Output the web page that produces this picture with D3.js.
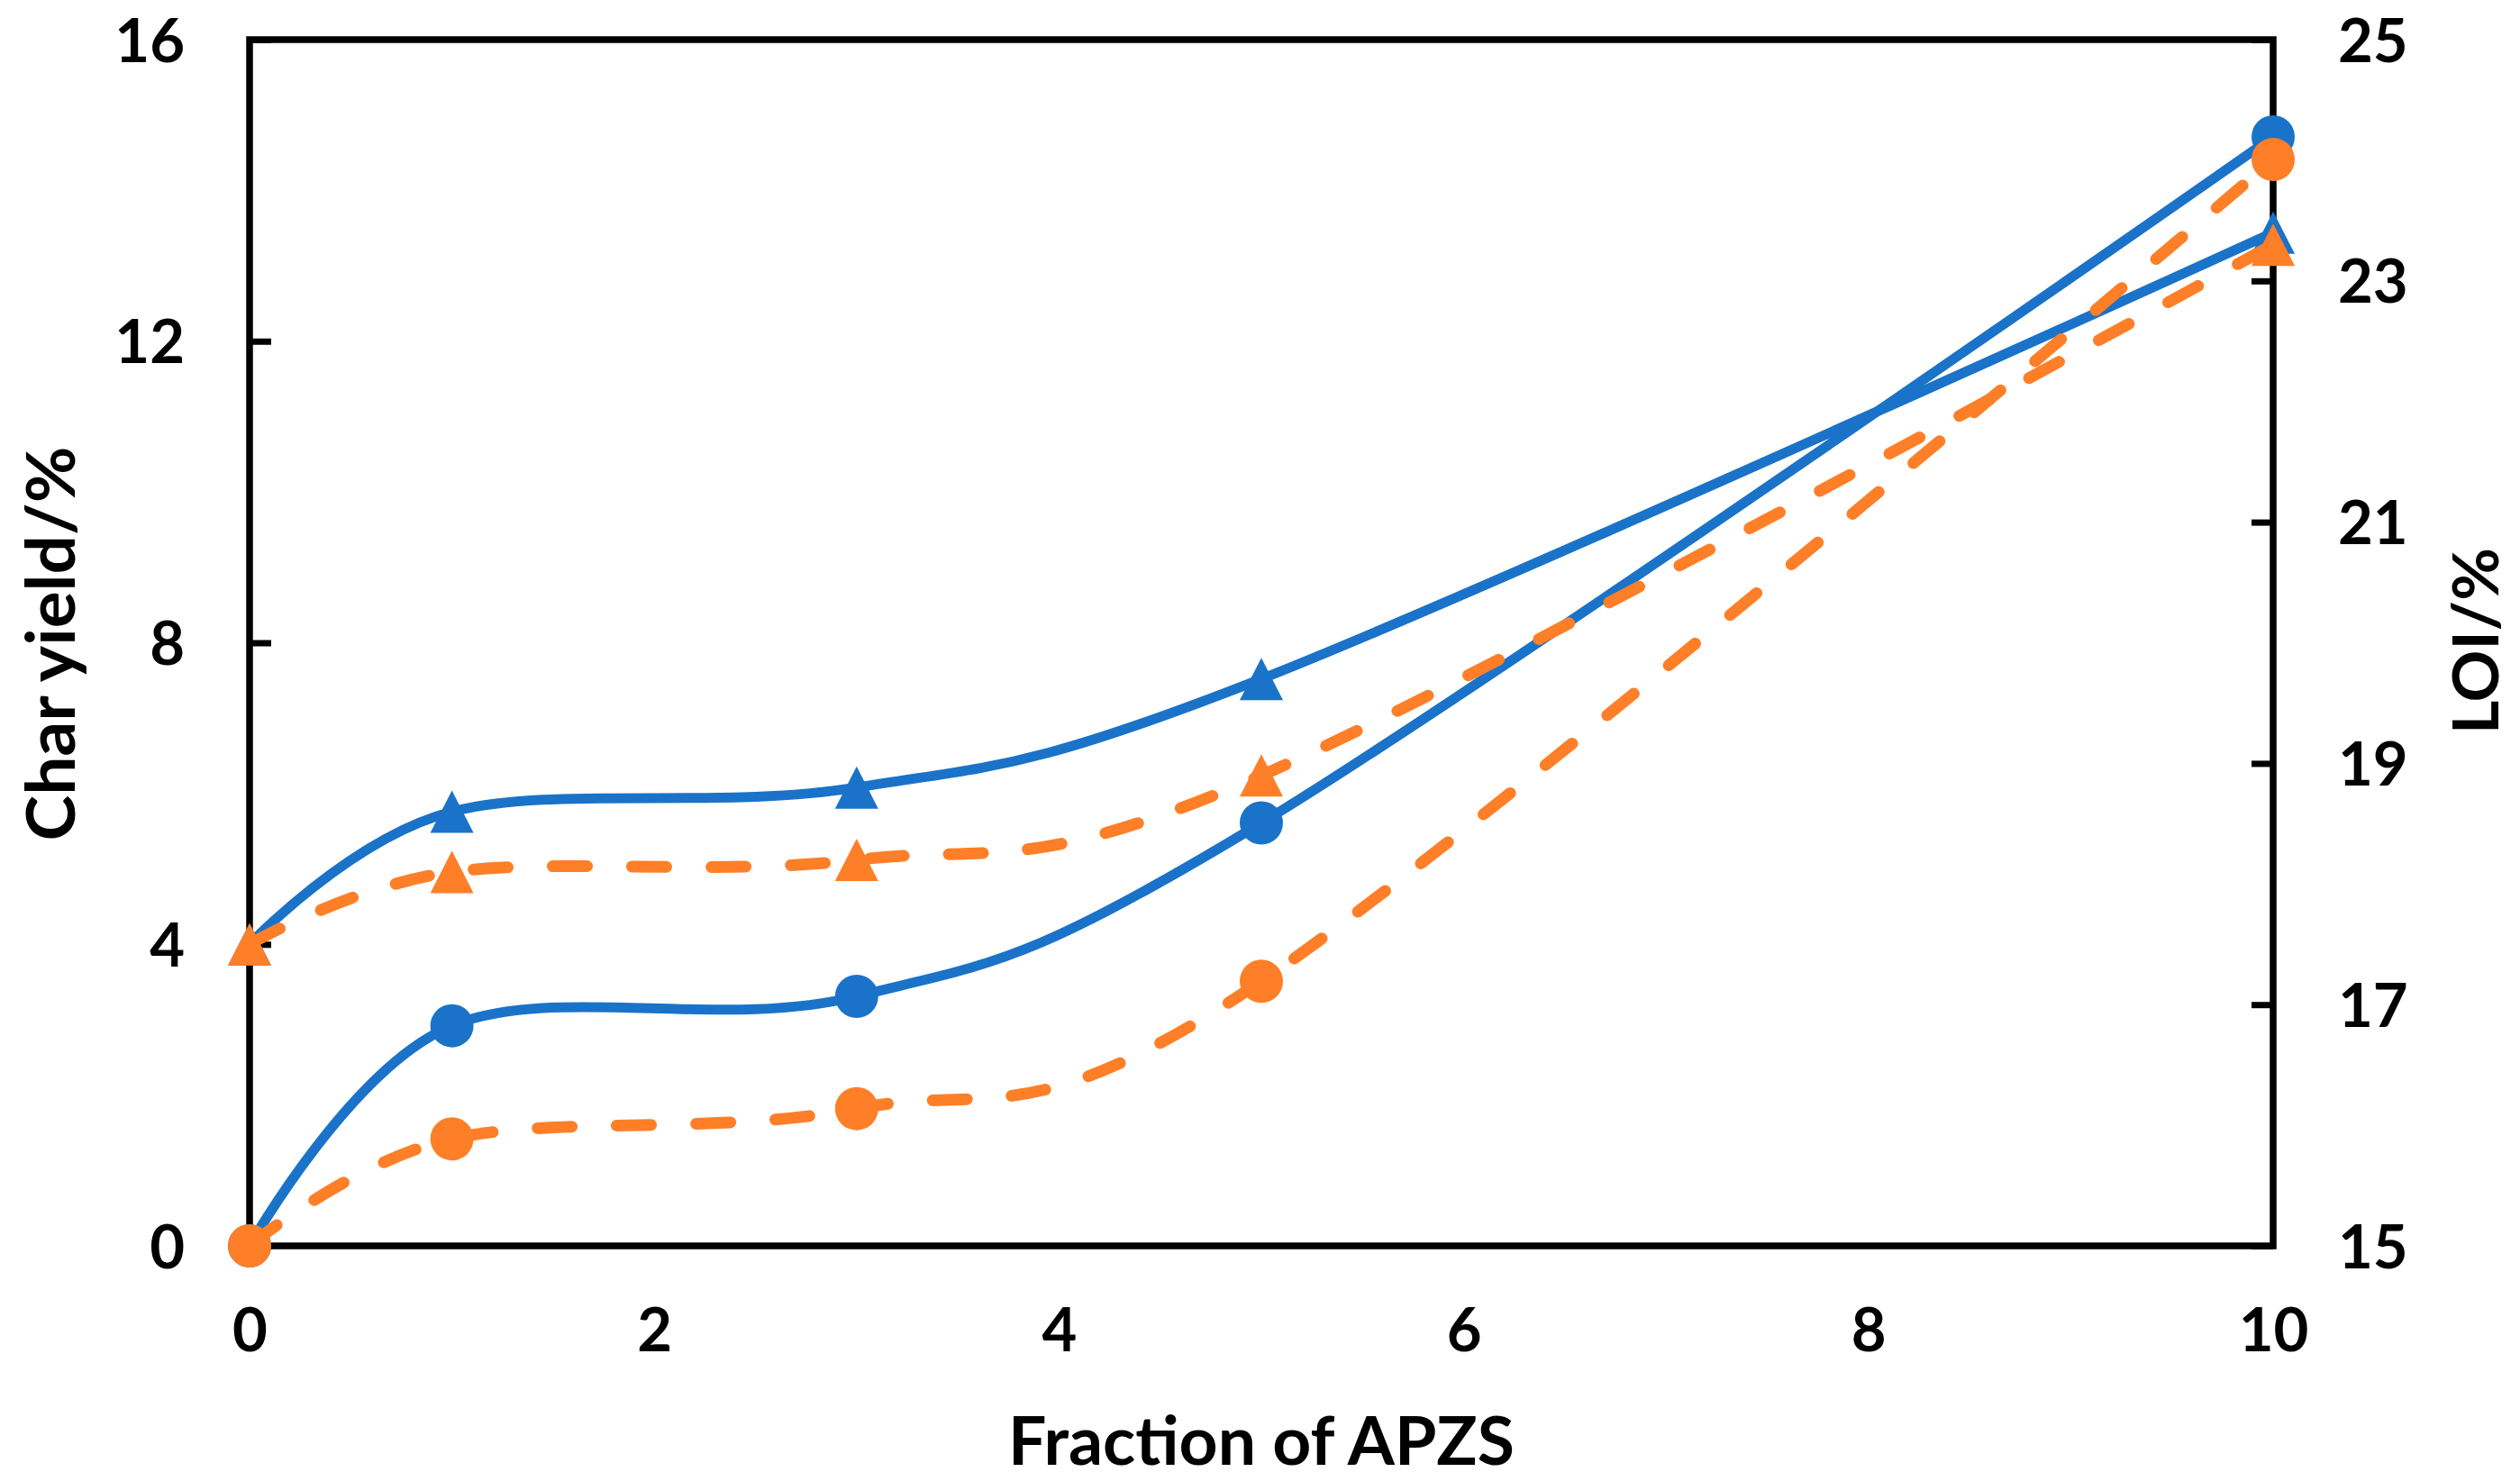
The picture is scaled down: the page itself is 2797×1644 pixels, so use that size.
<!DOCTYPE html>
<html>
<head>
<meta charset="utf-8">
<script src="https://cdn.jsdelivr.net/npm/d3@7"></script>
<style>
  html, body { margin: 0; padding: 0; background: #fff; }
  svg { display: block; }
  text { font-family: Lato, "Open Sans", "Noto Sans", sans-serif; font-weight: 700; fill: #000; }
</style>
</head>
<body>
<script>
// ---- data ----
const xValues = [0, 1, 3, 5, 10];
const charYieldBlue = [0, 2.92, 3.31, 5.61, 14.71];     // solid blue, circles, left axis
const charYieldOrange = [0, 1.42, 1.82, 3.51, 14.41];   // dashed orange, circles, left axis
const loiBlue = [17.5, 18.6, 18.8, 19.7, 23.4];          // solid blue, triangles, right axis
const loiOrange = [17.5, 18.1, 18.2, 18.9, 23.3];        // dashed orange, triangles, right axis
const xTicks = [0, 2, 4, 6, 8, 10];
const leftTicks = [0, 4, 8, 12, 16];
const rightTicks = [15, 17, 19, 21, 23, 25];
const xTitle = "Fraction of APZS";
const leftTitle = "Char yield/%";
const rightTitle = "LOI/%";

// ---- layout ----
const W = 2797, H = 1644;
const plot = { left: 277, right: 2523, top: 44, bottom: 1383 };
const BLUE = "#1a73c8", ORANGE = "#fe7f27";

const svg = d3.select("body").append("svg").attr("width", W).attr("height", H);

const x = d3.scaleLinear().domain([0, 10]).range([plot.left, plot.right]);
const yL = d3.scaleLinear().domain([0, 16]).range([plot.bottom, plot.top]);
const yR = d3.scaleLinear().domain([15, 25]).range([plot.bottom, plot.top]);

const tickFont = 67;

// left axis
const gL = svg.append("g").attr("transform", `translate(${plot.left},0)`)
  .call(d3.axisLeft(yL).tickValues(leftTicks).tickSize(-24).tickPadding(72));
gL.select(".domain").remove();
gL.selectAll(".tick line").attr("stroke", "#000").attr("stroke-width", 7);
gL.selectAll(".tick text").attr("font-size", tickFont).attr("dy", "0.36em")
  .style("font-family", "Lato, sans-serif").style("font-weight", 700);

// right axis
const gR = svg.append("g").attr("transform", `translate(${plot.right},0)`)
  .call(d3.axisRight(yR).tickValues(rightTicks).tickSize(-24).tickPadding(72));
gR.select(".domain").remove();
gR.selectAll(".tick line").attr("stroke", "#000").attr("stroke-width", 7);
gR.selectAll(".tick text").attr("font-size", tickFont).attr("dy", "0.36em")
  .style("font-family", "Lato, sans-serif").style("font-weight", 700);

// bottom axis
const gB = svg.append("g").attr("transform", `translate(0,${plot.bottom})`)
  .call(d3.axisBottom(x).tickValues(xTicks).tickSize(0).tickFormat(d3.format("d")));
gB.select(".domain").remove();
gB.selectAll(".tick text").attr("font-size", tickFont).attr("dy", null).attr("y", 117)
  .style("font-family", "Lato, sans-serif").style("font-weight", 700);

// frame
svg.append("rect")
  .attr("x", plot.left).attr("y", plot.top)
  .attr("width", plot.right - plot.left).attr("height", plot.bottom - plot.top)
  .attr("fill", "none").attr("stroke", "#000").attr("stroke-width", 7.5);

// titles
svg.append("text").text(xTitle)
  .attr("x", (plot.left + plot.right) / 2).attr("y", 1626)
  .attr("text-anchor", "middle").attr("font-size", 75)
  .attr("textLength", 562).attr("lengthAdjust", "spacingAndGlyphs");

svg.append("text").text(leftTitle)
  .attr("transform", `translate(83,${(plot.top + plot.bottom) / 2 + 1}) rotate(-90)`)
  .attr("text-anchor", "middle").attr("font-size", 74)
  .attr("textLength", 438).attr("lengthAdjust", "spacingAndGlyphs");

svg.append("text").text(rightTitle)
  .attr("transform", `translate(2773,${(plot.top + plot.bottom) / 2 - 2}) rotate(-90)`)
  .attr("text-anchor", "middle").attr("font-size", 71)
  .attr("textLength", 207).attr("lengthAdjust", "spacingAndGlyphs");

// series
const series = [
  { values: charYieldBlue, scale: yL, color: BLUE, dashed: false, marker: "circle" },
  { values: loiBlue, scale: yR, color: BLUE, dashed: false, marker: "triangle" },
  { values: charYieldOrange, scale: yL, color: ORANGE, dashed: true, marker: "circle" },
  { values: loiOrange, scale: yR, color: ORANGE, dashed: true, marker: "triangle" }
];

const triW = 48, triH = 47;
const triPath = `M0,${-triH / 2}L${triW / 2},${triH / 2}L${-triW / 2},${triH / 2}Z`;

series.forEach(s => {
  const pts = xValues.map((xv, i) => [x(xv), s.scale(s.values[i])]);
  const line = d3.line().curve(d3.curveCatmullRom.alpha(0));
  svg.append("path")
    .attr("d", line(pts))
    .attr("fill", "none")
    .attr("stroke", s.color)
    .attr("stroke-width", s.dashed ? 13 : 11)
    .attr("stroke-linecap", s.dashed ? "round" : "butt")
    .attr("stroke-linejoin", "round")
    .attr("stroke-dasharray", s.dashed ? "38,50" : null);
  const g = svg.append("g");
  if (s.marker === "circle") {
    g.selectAll("circle").data(pts).join("circle")
      .attr("cx", d => d[0]).attr("cy", d => d[1]).attr("r", 24)
      .attr("fill", s.color);
  } else {
    g.selectAll("path").data(pts).join("path")
      .attr("d", triPath)
      .attr("transform", d => `translate(${d[0]},${d[1]})`)
      .attr("fill", s.color);
  }
});
</script>
</body>
</html>
